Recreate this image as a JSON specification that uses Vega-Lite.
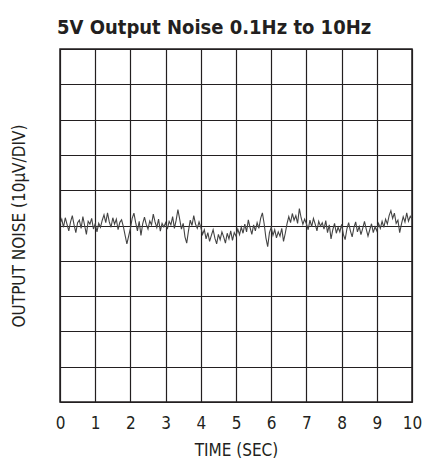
{
  "$schema": "https://vega.github.io/schema/vega-lite/v6.json",
  "autosize": "none",
  "padding": {"left": 60, "top": 49, "right": 13, "bottom": 59},
  "width": 352,
  "height": 353,
  "background": "white",
  "title": {
    "text": "5V Output Noise 0.1Hz to 10Hz",
    "font": "DejaVu Sans Condensed, sans-serif",
    "fontSize": 20,
    "fontWeight": "bold",
    "color": "#231f20",
    "anchor": "start",
    "frame": "group",
    "dx": -3,
    "dy": 18,
    "baseline": "alphabetic",
    "offset": 13
  },
  "config": {
    "view": {"stroke": "#231f20", "strokeWidth": 1.5},
    "font": "DejaVu Sans Condensed, sans-serif",
    "axis": {
      "grid": true,
      "gridColor": "#231f20",
      "gridWidth": 1.2,
      "gridOpacity": 1,
      "domain": false,
      "ticks": false,
      "labelFont": "DejaVu Sans Condensed, sans-serif",
      "titleFont": "DejaVu Sans Condensed, sans-serif",
      "labelColor": "#231f20",
      "titleColor": "#231f20",
      "labelFontSize": 17,
      "titleFontSize": 17,
      "titleFontWeight": "normal"
    }
  },
  "data": {
    "values": [
      {"t":0.00,"v":0.5},{"t":0.05,"v":1.8},{"t":0.10,"v":-0.5},{"t":0.15,"v":2.2},{"t":0.20,"v":0.3},
      {"t":0.25,"v":-1.5},{"t":0.30,"v":1.0},{"t":0.35,"v":2.8},{"t":0.40,"v":0.2},{"t":0.45,"v":-2.0},
      {"t":0.50,"v":0.8},{"t":0.55,"v":1.5},{"t":0.60,"v":-0.8},{"t":0.65,"v":2.5},{"t":0.70,"v":0.0},
      {"t":0.75,"v":-2.5},{"t":0.80,"v":1.2},{"t":0.85,"v":0.4},{"t":0.90,"v":2.0},{"t":0.95,"v":-1.0},
      {"t":1.00,"v":0.5},{"t":1.05,"v":-1.8},{"t":1.10,"v":0.6},{"t":1.15,"v":-0.5},{"t":1.20,"v":1.5},
      {"t":1.25,"v":3.0},{"t":1.30,"v":0.8},{"t":1.35,"v":3.6},{"t":1.40,"v":1.0},{"t":1.45,"v":-0.5},
      {"t":1.50,"v":2.2},{"t":1.55,"v":0.4},{"t":1.60,"v":1.8},{"t":1.65,"v":-1.2},{"t":1.70,"v":0.9},
      {"t":1.75,"v":1.6},{"t":1.80,"v":-0.3},{"t":1.85,"v":-2.8},{"t":1.90,"v":-5.2},{"t":1.95,"v":-3.0},
      {"t":2.00,"v":-0.8},{"t":2.05,"v":2.0},{"t":2.10,"v":3.5},{"t":2.15,"v":0.8},{"t":2.20,"v":-1.5},
      {"t":2.25,"v":1.2},{"t":2.30,"v":-2.8},{"t":2.35,"v":0.5},{"t":2.40,"v":2.4},{"t":2.45,"v":0.3},
      {"t":2.50,"v":-1.0},{"t":2.55,"v":1.3},{"t":2.60,"v":0.2},{"t":2.65,"v":3.2},{"t":2.70,"v":1.0},
      {"t":2.75,"v":-0.6},{"t":2.80,"v":1.8},{"t":2.85,"v":-1.6},{"t":2.90,"v":0.6},{"t":2.95,"v":-0.4},
      {"t":3.00,"v":0.8},{"t":3.05,"v":-1.0},{"t":3.10,"v":1.2},{"t":3.15,"v":0.2},{"t":3.20,"v":2.5},
      {"t":3.25,"v":-0.8},{"t":3.30,"v":1.5},{"t":3.35,"v":4.5},{"t":3.40,"v":1.8},{"t":3.45,"v":-1.0},
      {"t":3.50,"v":0.6},{"t":3.55,"v":-3.2},{"t":3.60,"v":-5.0},{"t":3.65,"v":-1.5},{"t":3.70,"v":1.5},
      {"t":3.75,"v":0.0},{"t":3.80,"v":2.8},{"t":3.85,"v":0.4},{"t":3.90,"v":-0.8},{"t":3.95,"v":1.0},
      {"t":4.00,"v":-0.5},{"t":4.05,"v":-2.5},{"t":4.10,"v":-1.2},{"t":4.15,"v":-3.8},{"t":4.20,"v":-2.0},
      {"t":4.25,"v":-4.5},{"t":4.30,"v":-2.8},{"t":4.35,"v":-1.2},{"t":4.40,"v":-3.6},{"t":4.45,"v":-5.2},
      {"t":4.50,"v":-2.5},{"t":4.55,"v":-4.0},{"t":4.60,"v":-1.8},{"t":4.65,"v":-3.2},{"t":4.70,"v":-5.0},
      {"t":4.75,"v":-2.2},{"t":4.80,"v":-3.8},{"t":4.85,"v":-1.5},{"t":4.90,"v":-4.2},{"t":4.95,"v":-2.0},
      {"t":5.00,"v":-3.0},{"t":5.05,"v":-1.0},{"t":5.10,"v":-2.6},{"t":5.15,"v":-0.5},{"t":5.20,"v":-2.2},
      {"t":5.25,"v":0.4},{"t":5.30,"v":-1.8},{"t":5.35,"v":1.6},{"t":5.40,"v":-0.6},{"t":5.45,"v":-2.5},
      {"t":5.50,"v":0.2},{"t":5.55,"v":-1.5},{"t":5.60,"v":0.8},{"t":5.65,"v":-0.8},{"t":5.70,"v":2.0},
      {"t":5.75,"v":3.6},{"t":5.80,"v":0.5},{"t":5.85,"v":-3.5},{"t":5.90,"v":-6.0},{"t":5.95,"v":-2.0},
      {"t":6.00,"v":-0.5},{"t":6.05,"v":-2.8},{"t":6.10,"v":-1.2},{"t":6.15,"v":-3.5},{"t":6.20,"v":-1.8},
      {"t":6.25,"v":-3.0},{"t":6.30,"v":-0.8},{"t":6.35,"v":-4.5},{"t":6.40,"v":-2.2},{"t":6.45,"v":0.5},
      {"t":6.50,"v":2.5},{"t":6.55,"v":0.8},{"t":6.60,"v":3.4},{"t":6.65,"v":1.5},{"t":6.70,"v":2.8},
      {"t":6.75,"v":0.6},{"t":6.80,"v":4.8},{"t":6.85,"v":2.2},{"t":6.90,"v":0.3},{"t":6.95,"v":1.8},
      {"t":7.00,"v":0.5},{"t":7.05,"v":-1.2},{"t":7.10,"v":1.5},{"t":7.15,"v":-0.3},{"t":7.20,"v":2.0},
      {"t":7.25,"v":0.4},{"t":7.30,"v":-1.5},{"t":7.35,"v":1.2},{"t":7.40,"v":-0.2},{"t":7.45,"v":0.8},
      {"t":7.50,"v":-1.0},{"t":7.55,"v":1.4},{"t":7.60,"v":-2.0},{"t":7.65,"v":0.2},{"t":7.70,"v":-3.8},
      {"t":7.75,"v":-1.2},{"t":7.80,"v":0.6},{"t":7.85,"v":-2.2},{"t":7.90,"v":-0.5},{"t":7.95,"v":-1.8},
      {"t":8.00,"v":0.3},{"t":8.05,"v":-2.5},{"t":8.10,"v":-4.0},{"t":8.15,"v":-1.0},{"t":8.20,"v":0.8},
      {"t":8.25,"v":-1.5},{"t":8.30,"v":-3.2},{"t":8.35,"v":-0.6},{"t":8.40,"v":1.0},{"t":8.45,"v":-1.8},
      {"t":8.50,"v":-0.3},{"t":8.55,"v":-2.6},{"t":8.60,"v":-0.8},{"t":8.65,"v":1.2},{"t":8.70,"v":-1.0},
      {"t":8.75,"v":-3.0},{"t":8.80,"v":-1.2},{"t":8.85,"v":0.5},{"t":8.90,"v":-2.0},{"t":8.95,"v":-0.4},
      {"t":9.00,"v":-1.5},{"t":9.05,"v":0.6},{"t":9.10,"v":-0.8},{"t":9.15,"v":1.2},{"t":9.20,"v":-0.5},
      {"t":9.25,"v":1.8},{"t":9.30,"v":0.4},{"t":9.35,"v":2.8},{"t":9.40,"v":4.2},{"t":9.45,"v":2.0},
      {"t":9.50,"v":3.5},{"t":9.55,"v":0.6},{"t":9.60,"v":1.5},{"t":9.65,"v":-2.0},{"t":9.70,"v":0.4},
      {"t":9.75,"v":2.5},{"t":9.80,"v":1.0},{"t":9.85,"v":3.6},{"t":9.90,"v":1.2},{"t":9.95,"v":2.6},
      {"t":10.00,"v":1.8}
    ]
  },
  "mark": {"type": "line", "color": "#444444", "strokeWidth": 1.1, "interpolate": "linear"},
  "encoding": {
    "x": {
      "field": "t",
      "type": "quantitative",
      "scale": {"domain": [0, 10], "nice": false},
      "axis": {
        "title": "TIME (SEC)",
        "values": [0, 1, 2, 3, 4, 5, 6, 7, 8, 9, 10],
        "labelPadding": 13,
        "titlePadding": 11,
        "labelFlush": false
      }
    },
    "y": {
      "field": "v",
      "type": "quantitative",
      "scale": {"domain": [-50, 50], "nice": false},
      "axis": {
        "title": "OUTPUT NOISE (10µV/DIV)",
        "values": [-50, -40, -30, -20, -10, 0, 10, 20, 30, 40, 50],
        "labels": false,
        "titlePadding": 32
      }
    }
  }
}
